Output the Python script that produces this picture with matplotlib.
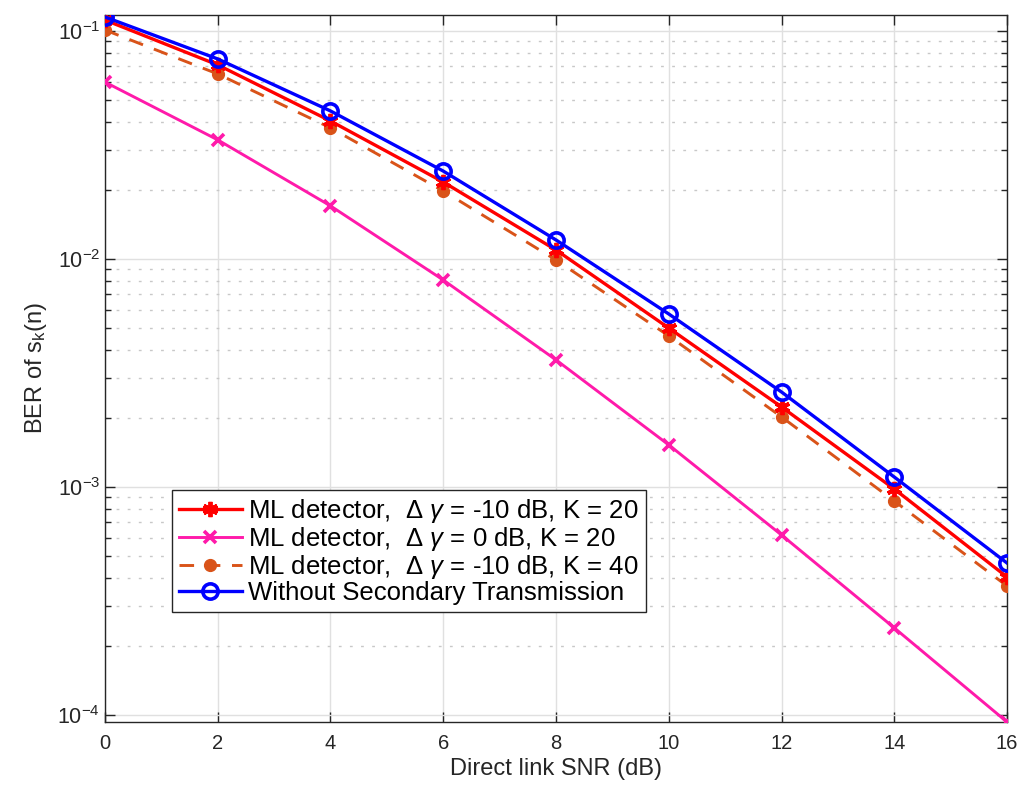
import numpy as np
import matplotlib
matplotlib.use("Agg")
import matplotlib.pyplot as plt

plt.rcParams['font.family'] = ['Liberation Sans', 'DejaVu Sans']
plt.rcParams['mathtext.fontset'] = 'custom'
plt.rcParams['mathtext.rm'] = 'Liberation Sans'
plt.rcParams['mathtext.it'] = 'Liberation Sans:italic'

# Data
snr_db = [0, 2, 4, 6, 8, 10, 12, 14, 16]
ber_ml_m10_k20 = [0.1117, 0.0710, 0.0403, 0.02176, 0.01095, 0.00498, 0.002244, 0.00098, 0.000403]
ber_ml_0_k20 = [0.0597, 0.0333, 0.0171, 0.00809, 0.00361, 0.00153, 0.000616, 0.000241, 9.32e-5]
ber_ml_m10_k40 = [0.101, 0.0648, 0.0376, 0.01987, 0.0099, 0.0046, 0.00203, 0.000868, 0.000368]
ber_no_secondary = [0.1152, 0.0754, 0.0446, 0.0243, 0.01212, 0.00574, 0.00261, 0.001106, 0.000464]

labels = [r'ML detector,  $\Delta$ $\gamma$ = -10 dB, K = 20',
          r'ML detector,  $\Delta$ $\gamma$ = 0 dB, K = 20',
          r'ML detector,  $\Delta$ $\gamma$ = -10 dB, K = 40',
          'Without Secondary Transmission']

fig = plt.figure(figsize=(10.17, 7.9), dpi=100)
ax = fig.add_axes([0.1032, 0.0861, 0.887, 0.8949])

asterisk = (6, 2, 0)
ax.semilogy(snr_db, ber_ml_m10_k20, color='#ff0000', lw=2.4, marker=asterisk,
            ms=11, mew=2.8, label=labels[0], zorder=4)
ax.semilogy(snr_db, ber_ml_0_k20, color='#ff1aaa', lw=2.1, marker='x',
            ms=9, mew=2.6, label=labels[1], zorder=3)
ax.semilogy(snr_db, ber_ml_m10_k40, color='#d95319', lw=2.1, ls=(0, (5, 4)),
            marker='o', ms=8.5, mfc='#d95319', label=labels[2], zorder=3)
ax.semilogy(snr_db, ber_no_secondary, color='#0000ff', lw=2.4, marker='o',
            ms=11, mfc='none', mew=2.6, label=labels[3], zorder=5)

ax.set_xlim(0, 16)
ax.set_ylim(9.32e-5, 0.1175)
ax.set_xticks(range(0, 17, 2))

# MATLAB-like grid and ticks
ax.grid(True, which='major', color='#e0e0e0', lw=1.0, ls='-')
ax.grid(True, which='minor', axis='y', color='#c8c8c8', lw=1.0, ls=(0, (2, 6)))
ax.set_axisbelow(True)
ax.tick_params(which='both', direction='in', top=True, right=True,
               colors='#262626', labelsize=14.5)
ax.tick_params(axis='y', labelsize=15.5)
ax.tick_params(which='major', length=7, width=1)
ax.tick_params(which='minor', length=4, width=1)
ax.tick_params(axis='x', pad=9)
for s in ax.spines.values():
    s.set_color('#262626')
    s.set_linewidth(1.0)

ax.set_xlabel('Direct link SNR (dB)', fontsize=17, color='#262626', labelpad=3)
ax.set_ylabel(r'BER of s$_\mathregular{k}$(n)', fontsize=17, color='#262626', labelpad=6)

leg = ax.legend(loc='lower left', bbox_to_anchor=(0.074, 0.155), borderaxespad=0,
                fontsize=18.5, fancybox=False, framealpha=1, edgecolor='#262626',
                handlelength=2.45, handletextpad=0.25, labelspacing=0.0,
                borderpad=0.28)
leg.get_frame().set_linewidth(1.0)

fig.savefig('out.png', dpi=100)
